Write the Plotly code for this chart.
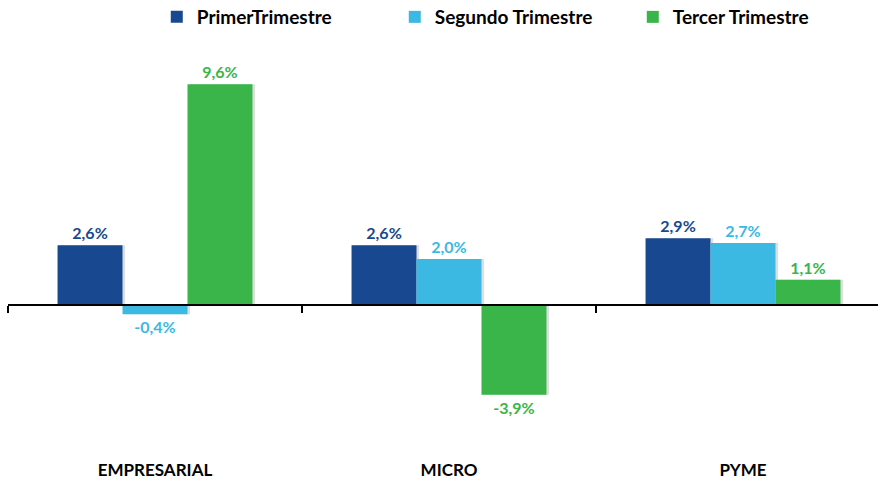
import plotly.graph_objects as go

categories = ["EMPRESARIAL", "MICRO", "PYME"]
series_names = ["PrimerTrimestre", "Segundo Trimestre", "Tercer Trimestre"]
primer = [2.6, 2.6, 2.9]
segundo = [-0.4, 2.0, 2.7]
tercer = [9.6, -3.9, 1.1]

colors = ["#18488F", "#3BB9E3", "#39B54A"]
values = [primer, segundo, tercer]

bar_w = 0.221
offsets = [-1.5 * bar_w, -0.5 * bar_w, 0.5 * bar_w]
FONT = "Lato"

fig = go.Figure()
# soft shadows
for vals, off in zip(values, offsets):
    fig.add_trace(go.Bar(
        x=categories, y=vals, width=bar_w, offset=off + 0.009,
        marker=dict(color="rgba(0,0,0,0.13)", line=dict(width=0)),
        showlegend=False, hoverinfo="skip",
    ))
for name, vals, col, off in zip(series_names, values, colors, offsets):
    fig.add_trace(go.Bar(
        x=categories, y=vals, name=name, width=bar_w, offset=off,
        marker=dict(color=col, line=dict(width=0)),
        texttemplate="%{y:.1f}%", textposition="outside",
        textfont=dict(family=FONT, size=16, color=col, weight="bold"),
        cliponaxis=False,
    ))

ymin, ymax = -6, 11
fig.update_layout(
    width=878, height=481,
    barmode="overlay",
    separators=",.",
    paper_bgcolor="white", plot_bgcolor="white",
    margin=dict(l=8, r=0, t=52, b=38, autoexpand=False),
    font=dict(family=FONT, color="black"),
    legend=dict(
        orientation="h", x=0.171, y=1.0895, xanchor="left", yanchor="middle",
        font=dict(family=FONT, size=19, color="black", weight="bold"),
        entrywidth=193, itemwidth=30, traceorder="normal",
    ),
    xaxis=dict(
        range=[-0.5, -0.5 + 870 / 294],
        anchor="free", position=(0 - ymin) / (ymax - ymin),
        showline=True, linecolor="black", linewidth=1.5,
        ticks="outside", tickson="boundaries", ticklen=7, tickcolor="black", tickwidth=1.5,
        ticklabelstandoff=150,
        tickfont=dict(family=FONT, size=17, color="black", weight="bold"),
        showgrid=False, zeroline=False,
    ),
    yaxis=dict(range=[ymin, ymax], visible=False, showgrid=False, zeroline=False),
)

fig.write_html("out.html", config={"displayModeBar": False},
               post_script="document.body.style.margin='0';")
